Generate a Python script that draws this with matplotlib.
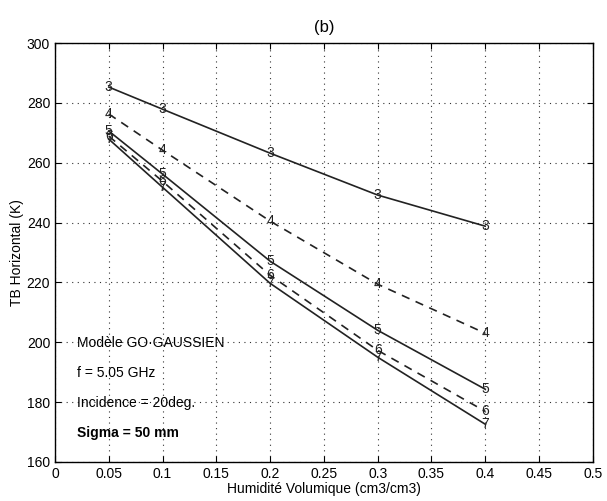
import numpy as np
import matplotlib.pyplot as plt

plt.rcParams['font.family'] = ['Liberation Sans', 'DejaVu Sans']

humidite = [0.05, 0.1, 0.2, 0.3, 0.4]
courbes = ['3', '4', '5', '6', '7']
tb = {
    '3': [285.3, 277.9, 263.2, 249.2, 238.8],
    '4': [276.3, 264.2, 240.5, 219.4, 203.0],
    '5': [270.6, 256.2, 227.1, 204.0, 184.3],
    '6': [268.9, 253.8, 222.4, 197.3, 176.9],
    '7': [267.9, 251.8, 219.7, 195.0, 172.6],
}
styles = {'3': '-', '4': '--', '5': '-', '6': '--', '7': '-'}
infos = ['Modèle GO·GAUSSIEN', 'f = 5.05 GHz', 'Incidence = 20deg.', 'Sigma = 50 mm']
infos_y = [199.7, 189.6, 179.6, 169.6]

fig = plt.figure(figsize=(6.07, 5.01), dpi=100)
ax = fig.add_axes([0.0906, 0.078, 0.886, 0.836])

for c in courbes:
    ax.plot(humidite, tb[c], color='#222222', linestyle=styles[c], linewidth=1.2,
            dashes=(5, 4) if styles[c] == '--' else (None, None))
    for x, y in zip(humidite, tb[c]):
        ax.text(x, y, c, ha='center', va='center', fontsize=10, color='#222222')

ax.set_xlim(0, 0.5)
ax.set_ylim(160, 300)
ax.set_xticks(np.arange(0, 0.51, 0.05))
ax.set_xticklabels(['0', '0.05', '0.1', '0.15', '0.2', '0.25', '0.3', '0.35', '0.4', '0.45', '0.5'])
ax.set_yticks(np.arange(160, 301, 20))
ax.tick_params(direction='in', top=True, right=True, labelsize=10, length=4)
ax.grid(True, linestyle=(0, (1, 4)), color='#333333', linewidth=0.8)
for s in ax.spines.values():
    s.set_linewidth(1.0)

ax.set_title('(b)', fontsize=12, pad=8)
ax.set_xlabel('Humidité Volumique (cm3/cm3)', fontsize=10, labelpad=1)
ax.set_ylabel('TB Horizontal (K)', fontsize=10, labelpad=2)

for i, t in enumerate(infos):
    ax.text(0.0205, infos_y[i], t, fontsize=10, ha='left', va='center',
            fontweight='bold' if i == 3 else 'normal')

fig.savefig('out.png', dpi=100)
